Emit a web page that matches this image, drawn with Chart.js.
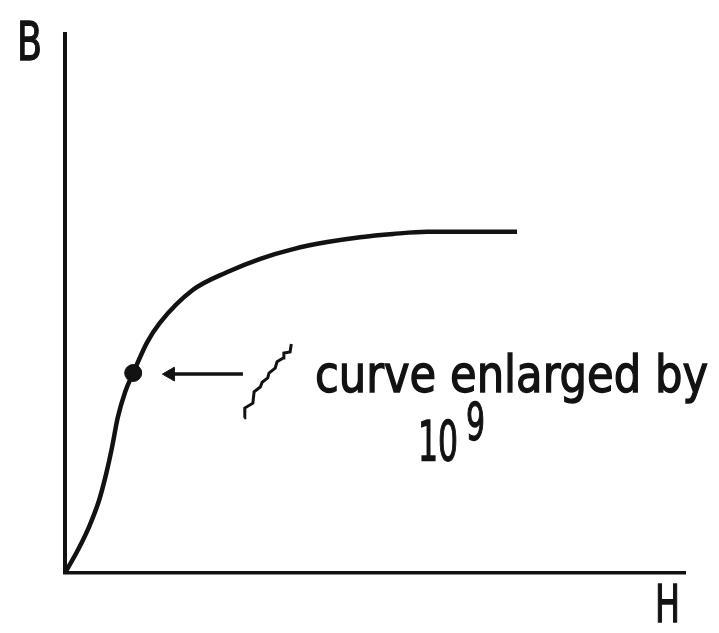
<!DOCTYPE html>
<html>
<head>
<meta charset="utf-8">
<script src="https://cdn.jsdelivr.net/npm/chart.js@4/dist/chart.umd.min.js"></script>
<style>
  html, body { margin: 0; padding: 0; background: #fff; }
  canvas { display: block; }
</style>
</head>
<body>
<canvas id="bh" width="719" height="633"></canvas>
<script>
// magnetisation curve, H (field) against B (flux density), arbitrary units
const curveH = [0, 0.21, 0.40, 0.55, 0.66, 0.76, 0.85, 0.97, 1.10, 1.32, 1.53, 2.06, 2.61, 3.15, 3.68, 4.23, 4.76, 5.29, 5.84, 6.37, 7.29];
const curveB = [0, 0.43, 0.89, 1.35, 1.82, 2.34, 2.88, 3.36, 3.71, 4.27, 4.64, 5.25, 5.58, 5.83, 6.01, 6.14, 6.23, 6.29, 6.33, 6.33, 6.33];

// marked point on the curve
const markH = [1.10];
const markB = [3.71];

// little staircase sketch (the enlarged bit of curve)
const stepH = [2.89, 2.90, 3.03, 3.05, 3.15, 3.18, 3.27, 3.29, 3.39, 3.42, 3.52, 3.53, 3.63, 3.65];
const stepB = [2.88, 3.06, 3.15, 3.36, 3.45, 3.54, 3.62, 3.71, 3.80, 3.92, 3.99, 4.08, 4.10, 4.25];

// arrow from the note back to the marked point
const arrowH = [2.87, 1.74];
const arrowB = [3.69, 3.69];
const arrowTipH = [1.70];

const xMax = 10;
const yMax = 10;
const ink = '#121212';

function pts(xs, ys) {
  return xs.map((x, i) => ({ x: x, y: ys[i] }));
}

// draw a label squeezed/stretched to a given width
function fitText(ctx, text, x, baseline, width, size) {
  ctx.save();
  ctx.font = size + 'px "DejaVu Sans Condensed", "DejaVu Sans", sans-serif';
  const w = ctx.measureText(text).width;
  ctx.translate(x, baseline);
  ctx.scale(width / w, 1);
  ctx.lineWidth = 1.3;
  ctx.strokeText(text, 0, 0);
  ctx.fillText(text, 0, 0);
  ctx.restore();
}

const labels = {
  id: 'labels',
  afterDraw(chart) {
    const ctx = chart.ctx;
    ctx.save();
    ctx.fillStyle = ink;
    ctx.strokeStyle = ink;
    ctx.textBaseline = 'alphabetic';
    ctx.textAlign = 'left';
    fitText(ctx, 'B', 17, 60, 25, 53);
    fitText(ctx, 'H', 655, 622, 25, 51);
    fitText(ctx, 'curve enlarged by', 315, 392, 393, 51);
    fitText(ctx, '10', 418, 460, 40, 55);
    fitText(ctx, '9', 466, 440, 19, 51);
    ctx.restore();
  }
};

new Chart(document.getElementById('bh'), {
  type: 'line',
  data: {
    datasets: [
      {
        data: pts(curveH, curveB),
        borderColor: ink,
        borderWidth: 4.5,
        pointRadius: 0,
        cubicInterpolationMode: 'monotone',
        fill: false
      },
      {
        data: pts(markH, markB),
        showLine: false,
        pointRadius: 8.5,
        pointBackgroundColor: ink,
        pointBorderColor: ink
      },
      {
        data: pts(arrowH, arrowB),
        borderColor: ink,
        borderWidth: 3.5,
        pointRadius: 0
      },
      {
        data: pts(arrowTipH, [arrowB[0]]),
        showLine: false,
        pointStyle: 'triangle',
        rotation: 270,
        pointRadius: 8,
        pointBackgroundColor: ink,
        pointBorderColor: ink
      },
      {
        data: pts(stepH, stepB),
        borderColor: ink,
        borderWidth: 3,
        pointRadius: 0,
        tension: 0
      }
    ]
  },
  options: {
    responsive: false,
    animation: false,
    layout: { padding: { left: 65, right: 34, top: 34, bottom: 60 } },
    plugins: {
      legend: { display: false },
      tooltip: { enabled: false }
    },
    scales: {
      x: {
        type: 'linear',
        min: 0,
        max: xMax,
        ticks: { display: false },
        grid: { display: false, drawTicks: false },
        border: { display: true, color: ink, width: 3.5 }
      },
      y: {
        type: 'linear',
        min: 0,
        max: yMax,
        ticks: { display: false },
        grid: { display: false, drawTicks: false },
        border: { display: true, color: ink, width: 4 }
      }
    }
  },
  plugins: [labels]
});
</script>
</body>
</html>
